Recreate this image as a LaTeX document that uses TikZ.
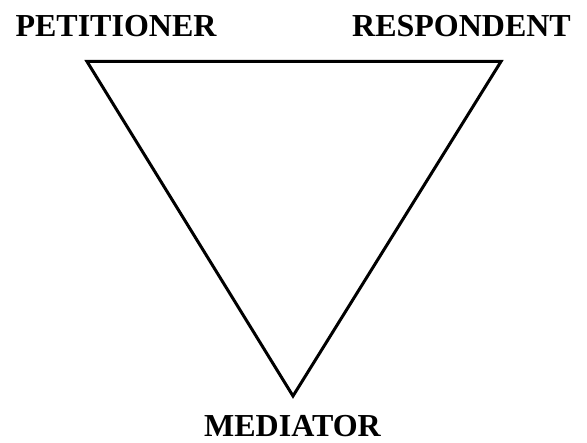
\documentclass[tikz,border=0pt]{standalone}
\usepackage{fontspec}
\setmainfont{Liberation Serif}
\begin{document}
\begin{tikzpicture}[x=1pt,y=-1pt,
  lbl/.style={font=\fontsize{32}{36}\selectfont\bfseries, inner sep=0pt, anchor=base},
  edge/.style={draw=black, line width=3pt, line join=miter}]
\useasboundingbox (0,0) rectangle (587,443);
\coordinate (P) at (87,61.5);
\coordinate (R) at (501,61.5);
\coordinate (M) at (293,396);
\draw[edge] (P) -- (R) -- (M) -- cycle;
\node[lbl] (pet) at (116,37) {PETITIONER};
\node[lbl] (res) at (461.5,37) {RESPONDENT};
\node[lbl] (med) at (292.5,437) {MEDIATOR};
\end{tikzpicture}
\end{document}
